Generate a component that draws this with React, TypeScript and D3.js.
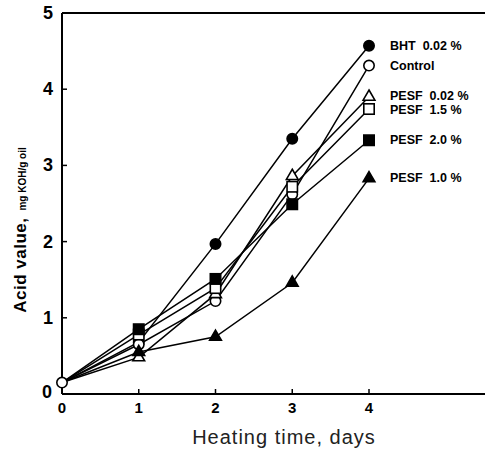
import React from "react";
import * as d3 from "d3";

const days = [0, 1, 2, 3, 4];
const seriesNames = ["BHT  0.02 %", "Control", "PESF  0.02 %", "PESF  1.5 %", "PESF  2.0 %", "PESF  1.0 %"];
const bht = [0.15, 0.68, 1.97, 3.35, 4.57];
const control = [0.15, 0.65, 1.22, 2.62, 4.31];
const pesf002 = [0.15, 0.48, 1.31, 2.86, 3.9];
const pesf15 = [0.15, 0.78, 1.39, 2.72, 3.74];
const pesf20 = [0.15, 0.85, 1.51, 2.49, 3.33];
const pesf10 = [0.15, 0.55, 0.75, 1.46, 2.83];
const markers = ["circleFilled", "circleOpen", "triOpen", "squareOpen", "squareFilled", "triFilled"];
const xTicks = [0, 1, 2, 3, 4];
const yTicks = [0, 1, 2, 3, 4, 5];
const legendOffsets = [0, 0, -1, 1, 0, 0];

const W = 485, H = 450;
const x = d3.scaleLinear().domain([0, 4]).range([62, 369]);
const y = d3.scaleLinear().domain([0, 5]).range([394, 13]);

function Marker({ kind, cx, cy }: { kind: string; cx: number; cy: number }) {
  const filled = kind.endsWith("Filled");
  const fill = filled ? "#000" : "#fff";
  if (kind.startsWith("circle")) {
    return <circle cx={cx} cy={cy} r={5.2} fill={fill} stroke="#000" strokeWidth={1.6} />;
  }
  if (kind.startsWith("square")) {
    return <rect x={cx - 5.2} y={cy - 5.2} width={10.4} height={10.4} fill={fill} stroke="#000" strokeWidth={1.6} />;
  }
  const tri = d3.symbol().type(d3.symbolTriangle).size(60)() as string;
  return <path d={tri} transform={`translate(${cx},${cy})`} fill={fill} stroke="#000" strokeWidth={1.6} />;
}

export default function App() {
  const all = [bht, control, pesf002, pesf15, pesf20, pesf10];
  const line = d3.line<number>().x((_, i) => x(days[i])).y((d) => y(d));
  return (
    <svg width={W} height={H} style={{ position: "absolute", left: 0, top: 0, background: "#fff" }}>
      <rect width={W} height={H} fill="#fff" />
      <line x1={62} x2={485} y1={13} y2={13} stroke="#000" strokeWidth={2} />
      <line x1={62} x2={62} y1={13} y2={394} stroke="#000" strokeWidth={2} />
      <line x1={62} x2={485} y1={394} y2={394} stroke="#000" strokeWidth={2} />
      {yTicks.map((t) => (
        <g key={"y" + t}>
          <line x1={62} x2={67} y1={y(t)} y2={y(t)} stroke="#000" strokeWidth={1.5} />
          <text x={t === 0 ? 47 : 48} y={y(t) + (t === 0 ? 4 : 6)} textAnchor="middle" fontFamily="Liberation Sans, Arial, sans-serif" fontWeight="bold" fontSize={18}>{t}</text>
        </g>
      ))}
      {xTicks.map((t) => (
        <g key={"x" + t}>
          <line x1={x(t)} x2={x(t)} y1={394} y2={389} stroke="#000" strokeWidth={1.5} />
          <text x={x(t)} y={413} textAnchor="middle" fontFamily="Liberation Sans, Arial, sans-serif" fontWeight="bold" fontSize={15}>{t}</text>
        </g>
      ))}
      <text x={284} y={444} textAnchor="middle" fontFamily="Liberation Sans, Arial, sans-serif" fontSize={20} letterSpacing={1} fill="#222">Heating time, days</text>
      <text transform="translate(26,230) rotate(-90)" textAnchor="middle" fontFamily="Liberation Sans, Arial, sans-serif">
        <tspan fontWeight="bold" fontSize={17} letterSpacing={0.5}>Acid value,</tspan>
        <tspan fontWeight="bold" fontSize={10} dx={7}>mg KOH/g oil</tspan>
      </text>
      {all.map((s, i) => (
        <path key={"l" + i} d={line(s) as string} fill="none" stroke="#000" strokeWidth={1.5} />
      ))}
      {all.map((s, i) =>
        s.map((v, j) => (j === 0 ? null : <Marker key={`m${i}-${j}`} kind={markers[i]} cx={x(days[j])} cy={y(v)} />))
      )}
      <Marker kind="circleOpen" cx={x(0)} cy={y(control[0])} />
      {seriesNames.map((n, i) => (
        <text key={"t" + n} x={390} y={y(all[i][4]) + 4 + legendOffsets[i]} fontFamily="Liberation Sans, Arial, sans-serif" fontWeight="bold" fontSize={12.5} style={{ whiteSpace: "pre" }}>
          {n}
        </text>
      ))}
    </svg>
  );
}
